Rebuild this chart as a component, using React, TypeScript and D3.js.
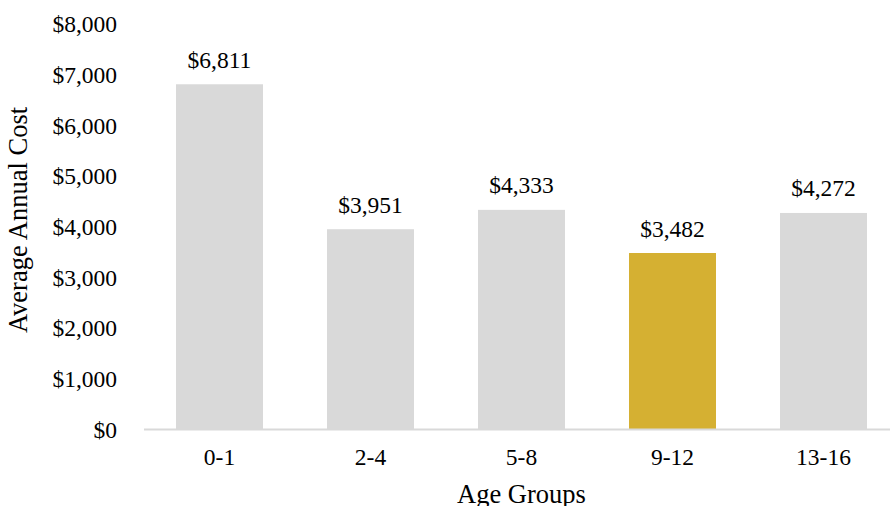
import React from "react";
import * as d3 from "d3";

const categories = ["0-1", "2-4", "5-8", "9-12", "13-16"];
const values = [6811, 3951, 4333, 3482, 4272];
const highlight = [false, false, false, true, false];
const yTicks = [0, 1000, 2000, 3000, 4000, 5000, 6000, 7000, 8000];

const W = 890;
const H = 506;
const FONT = "'Liberation Serif', 'Times New Roman', serif";

export default function App() {
  const x = d3.scaleBand<string>().domain(categories).range([144, 899]).paddingInner(0.424).paddingOuter(0.212);
  const y = d3.scaleLinear().domain([0, 8000]).range([429.5, 24]);
  const fmt = (v: number) => "$" + d3.format(",")(v);
  return (
    <svg width={W} height={H} style={{ position: "absolute", left: 0, top: 0 }} fontFamily={FONT}>
      <rect width={W} height={H} fill="#fff" />
      {yTicks.map((t) => (
        <text key={t} x={117} y={y(t)} dy="0.35em" textAnchor="end" fontSize={23.5} fill="#000">
          {fmt(t)}
        </text>
      ))}
      {categories.map((c, i) => (
        <g key={c}>
          <rect x={x(c)} y={y(values[i])} width={x.bandwidth()} height={y(0) - y(values[i])} fill={highlight[i] ? "#D5B032" : "#D9D9D9"} />
          <text x={(x(c) as number) + x.bandwidth() / 2} y={y(values[i]) - 16.5} textAnchor="middle" fontSize={23.5} fill="#000">
            {fmt(values[i])}
          </text>
          <text x={(x(c) as number) + x.bandwidth() / 2} y={465} textAnchor="middle" fontSize={23.5} fill="#000">
            {c}
          </text>
        </g>
      ))}
      <line x1={144} x2={899} y1={y(0)} y2={y(0)} stroke="#D9D9D9" strokeWidth={2} />
      <text x={521.5} y={503} textAnchor="middle" fontSize={26.5} fill="#000">Age Groups</text>
      <text transform={`translate(27, 220) rotate(-90)`} textAnchor="middle" fontSize={26.5} fill="#000">Average Annual Cost</text>
    </svg>
  );
}
